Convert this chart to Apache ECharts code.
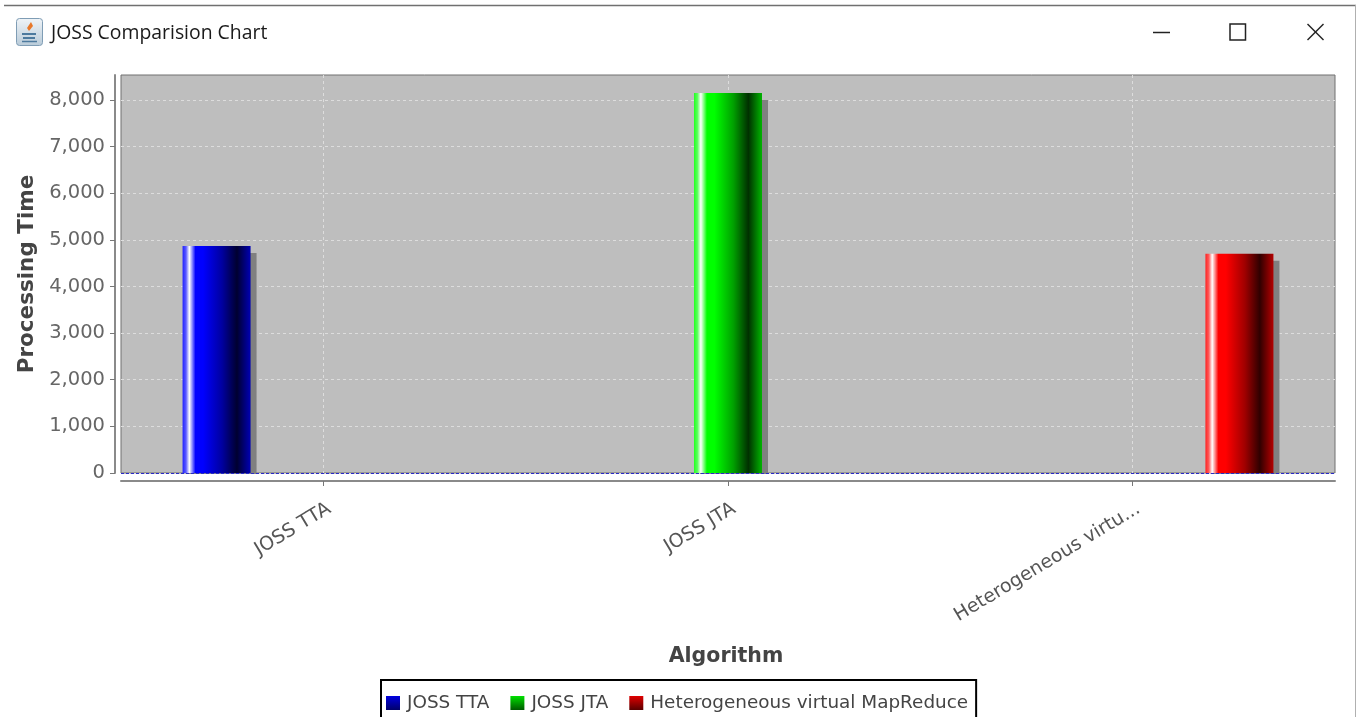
<!DOCTYPE html>
<html>
<head>
<meta charset="utf-8">
<style>html,body{margin:0;padding:0;background:#fff}#c{width:1360px;height:717px}</style>
<script src="https://cdn.jsdelivr.net/npm/echarts@6/dist/echarts.min.js"></script>
</head>
<body>
<div id="c"></div>
<script>
const categories = ['JOSS TTA', 'JOSS JTA', 'Heterogeneous virtu...'];
const seriesNames = ['JOSS TTA', 'JOSS JTA', 'Heterogeneous virtual MapReduce'];
const ttaValues = [4870, 0, 0];
const jtaValues = [0, 8150, 0];
const hvmrValues = [0, 0, 4700];
const yTicks = [0, 1000, 2000, 3000, 4000, 5000, 6000, 7000, 8000];
const yMax = 8536;

function barFill(edge, light, full, deep, dark, end) {
  return { type: 'linear', x: 0, y: 0, x2: 1, y2: 0, colorStops: [
    { offset: 0, color: edge }, { offset: 0.05, color: light }, { offset: 0.10, color: '#ffffff' },
    { offset: 0.19, color: full }, { offset: 0.30, color: full }, { offset: 0.58, color: deep },
    { offset: 0.80, color: dark }, { offset: 1, color: end } ] };
}
function legendFill(top, bottom) {
  return { type: 'linear', x: 0, y: 0, x2: 0, y2: 1, colorStops: [{ offset: 0, color: top }, { offset: 1, color: bottom }] };
}
const shadow = { shadowColor: '#808080', shadowOffsetX: 6, shadowOffsetY: 7, shadowBlur: 0 };
function makeBar(name, data, fill, extra) {
  return Object.assign({
    name, type: 'bar', data, barWidth: 68, barGap: '57%',
    itemStyle: Object.assign({ color: fill }, shadow), emphasis: { disabled: true }
  }, extra || {});
}
const noShadow = { shadowBlur: 0, shadowColor: 'transparent', shadowOffsetX: 0, shadowOffsetY: 0 };
const chart = echarts.init(document.getElementById('c'), null, { renderer: 'canvas' });
chart.setOption({
  animation: false,
  backgroundColor: '#ffffff',
  grid: { left: 121, right: 25, top: 75, bottom: 244, show: true, backgroundColor: '#bebebe', borderColor: '#707070', borderWidth: 1 },
  xAxis: {
    type: 'category', data: categories, offset: 8,
    name: 'Algorithm', nameLocation: 'middle', nameGap: 165,
    nameTextStyle: { fontFamily: 'DejaVu Sans', fontWeight: 'bold', fontSize: 20.5, color: '#444444', padding: [0, 4, 0, 0] },
    axisLine: { show: true, onZero: false, lineStyle: { color: '#8a8a8a', width: 2 } },
    axisTick: { show: true, alignWithLabel: true, length: 5, lineStyle: { color: '#777777' } },
    axisLabel: { interval: 0, rotate: 31, margin: 30, padding: [0, -7, 0, 0], fontFamily: 'DejaVu Sans', fontSize: 19, color: '#555555', hideOverlap: false },
    splitLine: { show: true, alignWithLabel: true, interval: 0, lineStyle: { color: '#dddddd', type: [3, 3], width: 1 } }
  },
  yAxis: {
    type: 'value', min: 0, max: yMax, offset: 6,
    name: 'Processing Time', nameLocation: 'middle', nameGap: 71,
    nameTextStyle: { fontFamily: 'DejaVu Sans', fontWeight: 'bold', fontSize: 21.5, color: '#444444' },
    axisLine: { show: true, lineStyle: { color: '#8a8a8a', width: 2 } },
    axisTick: { show: true, length: 5, customValues: yTicks, lineStyle: { color: '#777777' } },
    axisLabel: { customValues: yTicks, margin: 10, padding: [3, 0, 0, 0], fontFamily: 'DejaVu Sans', fontSize: 19.5, color: '#666666',
      formatter: v => Number(v).toLocaleString('en-US') },
    splitLine: { show: true, lineStyle: { color: '#dddddd', type: [3, 3], width: 1 } }
  },
  legend: {
    left: 381, top: 680, orient: 'horizontal', padding: [14, 8, 40, 5], itemGap: 21, itemWidth: 14, itemHeight: 14,
    borderColor: '#000000', borderWidth: 2, backgroundColor: '#ffffff',
    textStyle: { fontFamily: 'DejaVu Sans', fontSize: 18.4, color: '#444444', padding: [0, 0, 0, 2] },
    data: [
      { name: seriesNames[0], icon: 'rect', itemStyle: Object.assign({ color: legendFill('#0000e0', '#00006a') }, noShadow) },
      { name: seriesNames[1], icon: 'rect', itemStyle: Object.assign({ color: legendFill('#00e000', '#005a00') }, noShadow) },
      { name: seriesNames[2], icon: 'rect', itemStyle: Object.assign({ color: legendFill('#e00000', '#5a0000') }, noShadow) }
    ]
  },
  series: [
    makeBar(seriesNames[0], ttaValues, barFill('#2222ff', '#5a5aff', '#0000ff', '#0000a0', '#000030', '#0000b4'), {
      markLine: { silent: true, symbol: 'none', label: { show: false }, lineStyle: { color: '#2a2ac8', type: [3, 2], width: 1 }, data: [{ yAxis: 0 }] }
    }),
    makeBar(seriesNames[1], jtaValues, barFill('#22ff22', '#5aff5a', '#00ff00', '#00a000', '#003000', '#00b400')),
    makeBar(seriesNames[2], hvmrValues, barFill('#ff2222', '#ff5a5a', '#ff0000', '#a00000', '#300000', '#b40000'))
  ],
  graphic: { elements: [
    { type: 'rect', z: 50, silent: true, shape: { x: 121, y: 474, width: 1216, height: 6 }, style: { fill: '#ffffff' } },
    { type: 'line', z: 60, shape: { x1: 4, y1: 5.5, x2: 1356, y2: 5.5 }, style: { stroke: '#707070', lineWidth: 1.5 } },
    { type: 'line', z: 60, shape: { x1: 1355.5, y1: 5, x2: 1355.5, y2: 717 }, style: { stroke: '#b0b0b0', lineWidth: 1 } },
    { type: 'rect', z: 60, shape: { x: 16.5, y: 18.5, width: 26, height: 27, r: 3 }, style: { fill: { type: 'linear', x: 0, y: 0, x2: 0, y2: 1, colorStops: [{ offset: 0, color: '#f0f4f8' }, { offset: 1, color: '#b8cad8' }] }, stroke: '#7f9db5', lineWidth: 1 } },
    { type: 'polygon', z: 61, shape: { points: [[31, 22], [33, 26], [29, 31], [27, 28]] }, style: { fill: '#e8782a' } },
    { type: 'line', z: 61, shape: { x1: 22, y1: 34, x2: 36, y2: 34 }, style: { stroke: '#4d7a9e', lineWidth: 2 } },
    { type: 'line', z: 61, shape: { x1: 23, y1: 38, x2: 35, y2: 38 }, style: { stroke: '#4d7a9e', lineWidth: 2 } },
    { type: 'line', z: 61, shape: { x1: 22, y1: 41.5, x2: 37, y2: 41.5 }, style: { stroke: '#4d7a9e', lineWidth: 1.5 } },
    { type: 'text', z: 60, style: { x: 51, y: 33, text: 'JOSS Comparision Chart', fontFamily: 'Open Sans', fontSize: 19.4, fill: '#1a1a1a', textVerticalAlign: 'middle' } },
    { type: 'line', z: 60, shape: { x1: 1153, y1: 32.5, x2: 1170, y2: 32.5 }, style: { stroke: '#222222', lineWidth: 1.5 } },
    { type: 'rect', z: 60, shape: { x: 1230, y: 24, width: 15.5, height: 16 }, style: { fill: 'none', stroke: '#222222', lineWidth: 1.5 } },
    { type: 'line', z: 60, shape: { x1: 1307.5, y1: 24, x2: 1323.5, y2: 40 }, style: { stroke: '#222222', lineWidth: 1.4 } },
    { type: 'line', z: 60, shape: { x1: 1323.5, y1: 24, x2: 1307.5, y2: 40 }, style: { stroke: '#222222', lineWidth: 1.4 } }
  ] }
});
</script>
</body>
</html>
